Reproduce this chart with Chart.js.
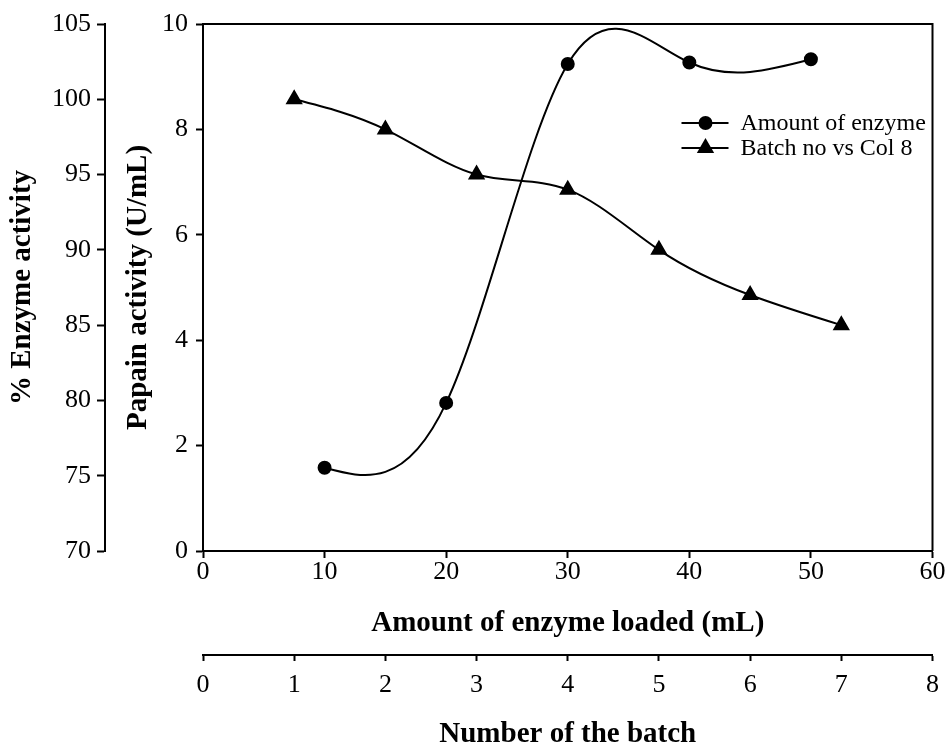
<!DOCTYPE html>
<html>
<head>
<meta charset="utf-8">
<script src="https://cdn.jsdelivr.net/npm/chart.js@4.4.0/dist/chart.umd.min.js"></script>
<style>
  html, body { margin: 0; padding: 0; background: #fff; }
</style>
</head>
<body>
<canvas id="papain_activity" width="950" height="747"></canvas>
<script>
// amount of enzyme loaded (mL) vs papain activity (U/mL)
var enzymeLoaded = [10, 20, 30, 40, 50];
var papainActivity = [1.58, 2.81, 9.24, 9.27, 9.33];

// batch number vs % enzyme activity
var batchNo = [1, 2, 3, 4, 5, 6, 7];
var enzymeActivityPct = [100, 98, 95, 94, 90, 87, 85];

var seriesLabels = ["Amount of enzyme", "Batch no vs Col 8"];

var serif = "'Liberation Serif', 'Times New Roman', serif";
var tickFont = { family: serif, size: 26, lineHeight: 1 };
var titleFont = { family: serif, size: 29, weight: 'bold', lineHeight: 1 };

function toPoints(xs, ys) {
    return xs.map(function (x, i) { return { x: x, y: ys[i] }; });
}

function axisLook(tickLen) {
    return {
        grid: { display: true, drawOnChartArea: false, drawTicks: true, tickLength: tickLen, tickColor: '#000', tickWidth: 2 },
        border: { display: true, color: '#000', width: 2 }
    };
}

// natural cubic spline through the points (like the original plot),
// turned into bezier control points on the line's own point elements
var naturalSpline = {
    id: 'naturalSpline',
    beforeDatasetDraw: function (chart, args) {
        var pts = args.meta.data;
        var n = pts.length - 1;
        if (n < 2) return;
        var h = [], m = new Array(n + 1).fill(0);
        for (var i = 0; i < n; i++) h.push(pts[i + 1].x - pts[i].x);
        // tridiagonal solve for second derivatives, m[0] = m[n] = 0
        var a = [], b = [], c = [], r = [];
        for (i = 1; i < n; i++) {
            a.push(h[i - 1]);
            b.push(2 * (h[i - 1] + h[i]));
            c.push(h[i]);
            r.push(6 * ((pts[i + 1].y - pts[i].y) / h[i] - (pts[i].y - pts[i - 1].y) / h[i - 1]));
        }
        for (i = 1; i < r.length; i++) {
            var w = a[i] / b[i - 1];
            b[i] -= w * c[i - 1];
            r[i] -= w * r[i - 1];
        }
        for (i = r.length - 1; i >= 0; i--) {
            m[i + 1] = (r[i] - (i < r.length - 1 ? c[i] * m[i + 2] : 0)) / b[i];
        }
        var d = [];
        for (i = 0; i < n; i++) d.push((pts[i + 1].y - pts[i].y) / h[i] - h[i] * (2 * m[i] + m[i + 1]) / 6);
        d.push((pts[n].y - pts[n - 1].y) / h[n - 1] + h[n - 1] * (m[n - 1] + 2 * m[n]) / 6);
        for (i = 0; i <= n; i++) {
            var hp = i > 0 ? h[i - 1] : 0, hn = i < n ? h[i] : 0;
            pts[i].cp1x = pts[i].x - hp / 3;
            pts[i].cp1y = pts[i].y - d[i] * hp / 3;
            pts[i].cp2x = pts[i].x + hn / 3;
            pts[i].cp2y = pts[i].y + d[i] * hn / 3;
        }
        args.meta.dataset._pointsUpdated = true;
    }
};

// box round the plot area (top and right edges)
var frame = {
    id: 'frame',
    afterDatasetsDraw: function (chart) {
        var a = chart.chartArea, ctx = chart.ctx;
        ctx.save();
        ctx.strokeStyle = '#000';
        ctx.lineWidth = 2;
        ctx.beginPath();
        ctx.moveTo(a.left, a.top);
        ctx.lineTo(a.right, a.top);
        ctx.lineTo(a.right, a.bottom);
        ctx.stroke();
        ctx.restore();
    }
};

// legend with line + marker, inside the plot
var lineLegend = {
    id: 'lineLegend',
    afterDraw: function (chart) {
        var a = chart.chartArea, ctx = chart.ctx;
        var x0 = a.right - 251, y0 = a.top + 99;
        ctx.save();
        chart.data.datasets.forEach(function (ds, i) {
            var y = y0 + i * 25;
            ctx.strokeStyle = '#000';
            ctx.lineWidth = 2;
            ctx.beginPath();
            ctx.moveTo(x0, y);
            ctx.lineTo(x0 + 47, y);
            ctx.stroke();
            Chart.helpers.drawPoint(ctx, {
                pointStyle: ds.pointStyle, radius: ds.pointRadius, borderWidth: 1
            }, x0 + 24, y);
            ctx.fillStyle = '#000';
            ctx.font = "24px " + serif;
            ctx.textBaseline = 'middle';
            ctx.textAlign = 'left';
            ctx.fillText(ds.label, x0 + 59, y + 1);
        });
        ctx.restore();
    }
};

var ctx = document.getElementById("papain_activity").getContext('2d');
var myChart = new Chart(ctx, {
    type: 'line',
    data: {
        datasets: [{
            label: seriesLabels[0],
            data: toPoints(enzymeLoaded, papainActivity),
            xAxisID: 'x',
            yAxisID: 'y',
            borderColor: '#000',
            backgroundColor: '#000',
            borderWidth: 2,
            pointStyle: 'circle',
            pointRadius: 6,
            pointBackgroundColor: '#000',
            tension: 0.4
        },
        {
            label: seriesLabels[1],
            data: toPoints(batchNo, enzymeActivityPct),
            xAxisID: 'x2',
            yAxisID: 'y2',
            borderColor: '#000',
            backgroundColor: '#000',
            borderWidth: 2,
            pointStyle: 'triangle',
            pointRadius: 8,
            pointBackgroundColor: '#000',
            tension: 0.4
        }]
    },
    options: {
        responsive: false,
        animation: false,
        devicePixelRatio: 1,
        layout: { padding: { top: 24, right: 16, left: 0, bottom: 0 } },
        plugins: {
            legend: { display: false },
            tooltip: { enabled: false }
        },
        scales: {
            x: Object.assign(axisLook(7), {
                type: 'linear', position: 'bottom', weight: 0,
                min: 0, max: 60,
                ticks: { stepSize: 10, color: '#000', font: tickFont, padding: 1 },
                title: { display: true, text: 'Amount of enzyme loaded (mL)', color: '#000', font: titleFont, padding: { top: 0, bottom: 17 } },
                afterFit: function (s) { s.height = 104; }
            }),
            x2: Object.assign(axisLook(6), {
                type: 'linear', position: 'bottom', weight: 1,
                min: 0, max: 8,
                ticks: { stepSize: 1, color: '#000', font: tickFont, padding: 11 },
                title: { display: true, text: 'Number of the batch', color: '#000', font: { family: serif, size: 29, weight: 'bold', lineHeight: 0.85 }, padding: { top: 0, bottom: 0 } },
                afterFit: function (s) { s.height = 92; }
            }),
            y: Object.assign(axisLook(7), {
                type: 'linear', position: 'left', weight: 0,
                min: 0, max: 10,
                ticks: { stepSize: 2, color: '#000', font: tickFont, padding: 8 },
                title: { display: true, text: 'Papain activity (U/mL)', color: '#000', font: titleFont, padding: { top: 19, bottom: 0 } },
                afterFit: function (s) { s.width = 98; }
            }),
            y2: Object.assign(axisLook(8), {
                type: 'linear', position: 'left', weight: 1,
                min: 70, max: 105,
                ticks: { stepSize: 5, color: '#000', font: tickFont, padding: 6 },
                title: { display: true, text: '% Enzyme activity', color: '#000', font: titleFont, padding: { top: 8, bottom: 0 } },
                afterFit: function (s) { s.width = 105; }
            })
        }
    },
    plugins: [naturalSpline, frame, lineLegend]
});
</script>
</body>
</html>
